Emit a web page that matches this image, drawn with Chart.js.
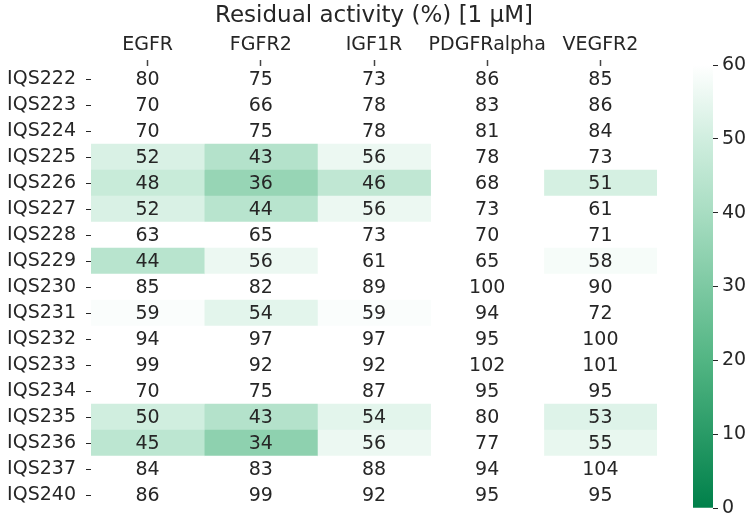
<!DOCTYPE html>
<html>
<head>
<meta charset="utf-8">
<script src="https://cdn.jsdelivr.net/npm/chart.js@4"></script>
<style>
  html, body { margin: 0; padding: 0; background: #fff; }
  #wrap { position: relative; width: 756px; height: 518px; }
  #main { position: absolute; left: 0; top: 0; width: 756px; height: 518px; }
  #cbar { position: absolute; left: 693px; top: 0; width: 63px; height: 518px; }
</style>
</head>
<body>
<div id="wrap">
  <div id="main"><canvas id="heat"></canvas></div>
  <div id="cbar"><canvas id="scale"></canvas></div>
</div>
<script>
// Residual activity heatmap
const compounds = ['IQS222', 'IQS223', 'IQS224', 'IQS225', 'IQS226', 'IQS227', 'IQS228', 'IQS229', 'IQS230',
    'IQS231', 'IQS232', 'IQS233', 'IQS234', 'IQS235', 'IQS236', 'IQS237', 'IQS240'];
const kinases = ['EGFR', 'FGFR2', 'IGF1R', 'PDGFRalpha', 'VEGFR2'];

const egfr = [80, 70, 70, 52, 48, 52, 63, 44, 85, 59, 94, 99, 70, 50, 45, 84, 86];
const fgfr2 = [75, 66, 75, 43, 36, 44, 65, 56, 82, 54, 97, 92, 75, 43, 34, 83, 99];
const igf1r = [73, 78, 78, 56, 46, 56, 73, 61, 89, 59, 97, 92, 87, 54, 56, 88, 92];
const pdgfra = [86, 83, 81, 78, 68, 73, 70, 65, 100, 94, 95, 102, 95, 80, 77, 94, 95];
const vegfr2 = [85, 86, 84, 73, 51, 61, 71, 58, 90, 72, 100, 101, 95, 53, 55, 104, 95];

const colorbarTicks = [0, 10, 20, 30, 40, 50, 60];

const series = [egfr, fgfr2, igf1r, pdgfra, vegfr2];
const vmin = 0, vmax = 60;
const textColor = '#262626';
const fontFamily = "'DejaVu Sans', sans-serif";

// green -> white colour map
const stops = [
    [0, [0, 128, 74]],
    [0.333, [82, 181, 131]],
    [0.667, [168, 221, 194]],
    [0.833, [208, 238, 223]],
    [1, [255, 255, 255]]
];

function cmap(v) {
    let t = (v - vmin) / (vmax - vmin);
    t = Math.max(0, Math.min(1, t));
    for (let i = 1; i < stops.length; i++) {
        if (t <= stops[i][0]) {
            const a = stops[i - 1], b = stops[i];
            const f = (t - a[0]) / (b[0] - a[0]);
            const c = a[1].map((x, k) => Math.round(x + (b[1][k] - x) * f));
            return 'rgb(' + c.join(',') + ')';
        }
    }
    return 'rgb(255,255,255)';
}

// one floating bar per cell, one dataset per kinase column
const datasets = series.map((vals, j) => ({
    label: kinases[j],
    data: compounds.map(() => [j, j + 1]),
    backgroundColor: vals.map(cmap),
    borderWidth: 0,
    grouped: false,
    barPercentage: 1,
    categoryPercentage: 1
}));

// write the values in the cells
const cellText = {
    id: 'cellText',
    afterDatasetsDraw(chart) {
        const ctx = chart.ctx;
        const x = chart.scales.x, y = chart.scales.y;
        ctx.save();
        ctx.font = '19px ' + fontFamily;
        ctx.fillStyle = textColor;
        ctx.textAlign = 'center';
        ctx.textBaseline = 'middle';
        series.forEach((vals, j) => {
            vals.forEach((v, i) => {
                ctx.fillText(String(v), x.getPixelForValue(j + 0.5), y.getPixelForValue(i) + 1);
            });
        });
        ctx.restore();
    }
};

// scale paddings from tick labels are not wanted here
function noLabelOverflow(scale) {
    scale.paddingTop = 0;
    scale.paddingBottom = 0;
}

new Chart(document.getElementById('heat'), {
    type: 'bar',
    data: { labels: compounds, datasets: datasets },
    options: {
        indexAxis: 'y',
        responsive: true,
        maintainAspectRatio: false,
        animation: false,
        layout: { padding: { left: 0, right: 99, top: 0, bottom: 10 } },
        plugins: {
            legend: { display: false },
            tooltip: { enabled: false }
        },
        scales: {
            x: {
                type: 'linear',
                position: 'top',
                min: 0,
                max: kinases.length,
                afterBuildTicks: function(scale) {
                    scale.ticks = kinases.map((k, i) => ({ value: i + 0.5 }));
                },
                afterFit: function(scale) { scale.height = 66; },
                ticks: {
                    autoSkip: false,
                    maxRotation: 0,
                    padding: 4,
                    color: textColor,
                    font: { family: fontFamily, size: 19 },
                    callback: function(value, index) { return kinases[index]; }
                },
                grid: { drawOnChartArea: false, drawTicks: true, tickLength: 6, color: '#444444', tickWidth: 1.5 },
                border: { display: false },
                title: {
                    display: true,
                    text: 'Residual activity (%) [1 \u03bcM]',
                    color: textColor,
                    font: { family: fontFamily, size: 23 },
                    padding: { top: 2, bottom: 0 }
                }
            },
            y: {
                type: 'category',
                offset: true,
                afterFit: function(scale) { scale.width = 91; noLabelOverflow(scale); },
                ticks: {
                    autoSkip: false,
                    padding: 10,
                    color: textColor,
                    font: { family: fontFamily, size: 19 }
                },
                grid: { offset: false, drawOnChartArea: false, drawTicks: true, tickLength: 5, color: textColor },
                border: { display: false }
            }
        }
    },
    plugins: [cellText]
});

// colour bar
new Chart(document.getElementById('scale'), {
    type: 'bar',
    data: {
        labels: [''],
        datasets: [{
            data: [[vmin, vmax]],
            borderWidth: 0,
            barPercentage: 1,
            categoryPercentage: 1,
            backgroundColor: function(context) {
                const chart = context.chart;
                const area = chart.chartArea;
                if (!area) return null;
                const y = chart.scales.y;
                const g = chart.ctx.createLinearGradient(0, y.getPixelForValue(vmin), 0, y.getPixelForValue(vmax));
                stops.forEach(s => g.addColorStop(s[0], cmap(vmin + s[0] * (vmax - vmin))));
                return g;
            }
        }]
    },
    options: {
        responsive: true,
        maintainAspectRatio: false,
        animation: false,
        layout: { padding: { left: 0, right: 0, top: 65, bottom: 10 } },
        plugins: {
            legend: { display: false },
            tooltip: { enabled: false }
        },
        scales: {
            x: { display: false },
            y: {
                position: 'right',
                min: vmin,
                max: vmax,
                afterBuildTicks: function(scale) {
                    scale.ticks = colorbarTicks.map(v => ({ value: v }));
                },
                afterFit: function(scale) { scale.width = 43; noLabelOverflow(scale); },
                ticks: {
                    padding: 4,
                    color: textColor,
                    font: { family: fontFamily, size: 19 }
                },
                grid: { drawOnChartArea: false, drawTicks: true, tickLength: 5, color: textColor },
                border: { display: false }
            }
        }
    }
});
</script>
</body>
</html>
